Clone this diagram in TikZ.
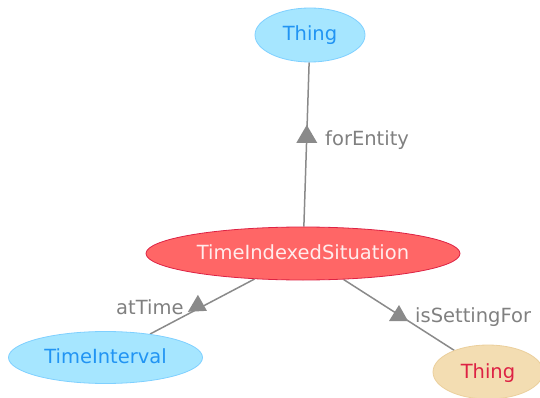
\documentclass[tikz,border=0pt]{standalone}
\usepackage{fontspec}
\setmainfont{DejaVu Sans}
\usetikzlibrary{calc,shapes.geometric,backgrounds}
\definecolor{cyanfill}{HTML}{A6E6FF}
\definecolor{cyanline}{HTML}{7FD0FF}
\definecolor{cyantext}{HTML}{2194F3}
\definecolor{redfill}{HTML}{FF6666}
\definecolor{redline}{HTML}{DD2244}
\definecolor{redtext}{HTML}{FFECEC}
\definecolor{wheatfill}{HTML}{F3DDB2}
\definecolor{wheatline}{HTML}{EBCF9C}
\definecolor{crimsontext}{HTML}{DD2244}
\definecolor{edgegray}{HTML}{8A8A8A}
\definecolor{labelgray}{HTML}{808080}
\tikzset{
  cls/.style={ellipse, inner sep=0pt, line width=0.8pt, text height=12pt, text depth=0pt,
    font=\fontsize{19.5}{23}\selectfont},
  extcls/.style={cls, fill=cyanfill, draw=cyanline, text=cyantext},
  maincls/.style={cls, fill=redfill, draw=redline, text=redtext},
  litcls/.style={cls, fill=wheatfill, draw=wheatline, text=crimsontext},
  edge/.style={draw=edgegray, line width=1.5pt},
  tip/.style={fill=edgegray},
  lbl/.style={anchor=base west, inner sep=0pt, text=labelgray, font=\fontsize{19.5}{23}\selectfont}
}
\begin{document}
\begin{tikzpicture}[x=1pt, y=-1pt]
\useasboundingbox (0,0) rectangle (540,398);
\clip (0,0) rectangle (540,398);
% nodes
\node[extcls, minimum width=110pt, minimum height=54pt] (thing1) at (310,35) {Thing};
\node[maincls, minimum width=314pt, minimum height=53pt] (tis) at (303,253.5) {TimeIndexedSituation};
\node[extcls, minimum width=194pt, minimum height=52pt] (ti) at (105.5,357.5) {TimeInterval};
\node[litcls, minimum width=110pt, minimum height=54pt] (thing2) at (488,372) {Thing};
% connectors
\begin{scope}[on background layer]
\draw[edge] (tis) -- (thing1);
\draw[edge] (tis) -- (ti);
\draw[edge] (tis) -- (thing2);
\end{scope}
% arrow tips
\coordinate (t1) at ($(thing1)!0.462!(tis)$);
\coordinate (t2) at ($(tis)!0.532!(ti)$);
\coordinate (t3) at ($(tis)!0.519!(thing2)$);
\fill[tip] (t1) +(0,-11) -- +(-10.5,7) -- +(10.5,7) -- cycle;
\fill[tip] (t2) +(0,-14) -- +(-10,3) -- +(9,2) -- cycle;
\fill[tip] (t3) +(0,-10) -- +(-10,6) -- +(9,6) -- cycle;
% labels
\node[lbl] (l1) at (325,146) {forEntity};
\node[lbl] (l2) at (116,314) {atTime};
\node[lbl] (l3) at (415,322) {isSettingFor};
\end{tikzpicture}
\end{document}
